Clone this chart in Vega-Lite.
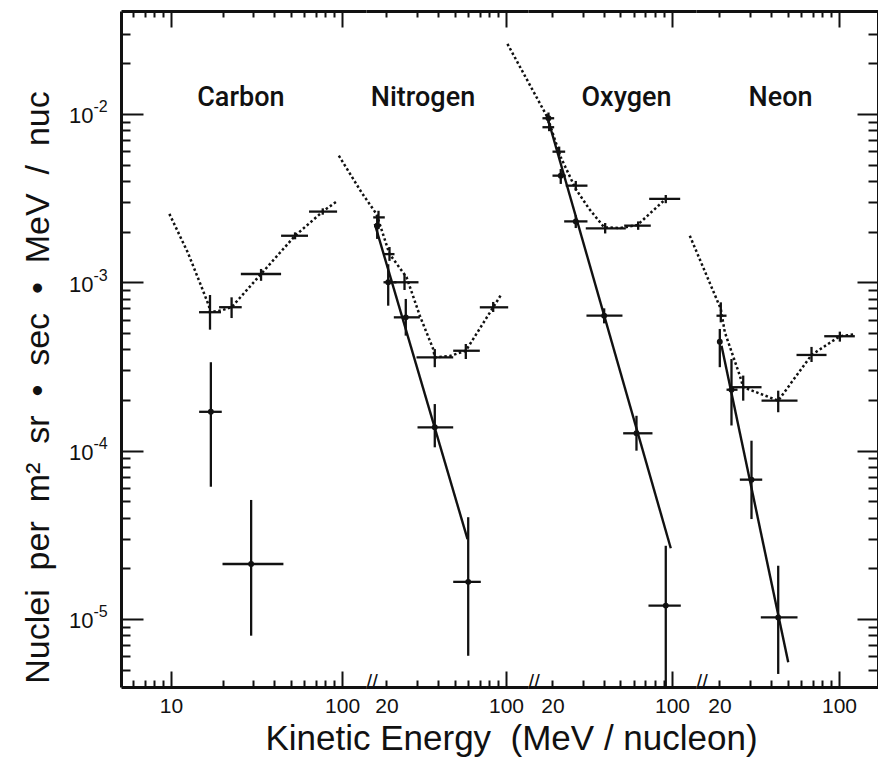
{
  "$schema": "https://vega.github.io/schema/vega-lite/v6.json",
  "autosize": {"type": "pad"},
  "padding": {"left": 20, "top": 10, "right": 1, "bottom": 5},
  "background": "white",
  "bounds": "flush",
  "spacing": 0,
  "config": {
    "view": {"stroke": null},
    "axis": {
      "grid": false,
      "domainColor": "#111",
      "domainWidth": 3,
      "tickColor": "#111",
      "tickWidth": 2,
      "labelColor": "#111",
      "labelFont": "Liberation Sans, Arial, sans-serif",
      "labelFontSize": 21,
      "labelOverlap": false,
      "labelBound": false,
      "labelFlush": false,
      "titleColor": "#111",
      "titleFont": "Liberation Sans, Arial, sans-serif",
      "titleFontWeight": "normal"
    }
  },
  "datasets": {
    "pts": [
      {"el": "C", "s": "u", "x": 16.9, "xlo": 14.58, "xhi": 19.6, "y": 0.000664, "ylo": 0.000523, "yhi": 0.00084},
      {"el": "C", "s": "u", "x": 22.6, "xlo": 19.1, "xhi": 25.9, "y": 0.000711, "ylo": 0.000613, "yhi": 0.000814},
      {"el": "C", "s": "u", "x": 33.6, "xlo": 25.6, "xhi": 44, "y": 0.00112, "ylo": 0.00102, "yhi": 0.0012},
      {"el": "C", "s": "u", "x": 53.1, "xlo": 44, "xhi": 63.2, "y": 0.00189, "ylo": 0.0018, "yhi": 0.00198},
      {"el": "C", "s": "u", "x": 77.1, "xlo": 64.1, "xhi": 93.5, "y": 0.00263, "ylo": 0.00252, "yhi": 0.00275},
      {"el": "C", "s": "l", "x": 17.1, "xlo": 14.6, "xhi": 19.8, "y": 0.00017, "ylo": 0.000061, "yhi": 0.000335},
      {"el": "C", "s": "l", "x": 29.4, "xlo": 20.0, "xhi": 45.4, "y": 0.0000212, "ylo": 0.00000795, "yhi": 0.0000509},
      {"el": "N", "s": "u", "x": 17.96, "xlo": 16.73, "xhi": 19.55, "y": 0.00243, "ylo": 0.00207, "yhi": 0.00266},
      {"el": "N", "s": "u", "x": 20.83, "xlo": 19.21, "xhi": 22.28, "y": 0.00147, "ylo": 0.00134, "yhi": 0.00162},
      {"el": "N", "s": "u", "x": 25.5, "xlo": 22.08, "xhi": 30.78, "y": 0.001, "ylo": 0.0009, "yhi": 0.00112},
      {"el": "N", "s": "u", "x": 38.33, "xlo": 29.97, "xhi": 49.12, "y": 0.000358, "ylo": 0.000313, "yhi": 0.000401},
      {"el": "N", "s": "u", "x": 58.21, "xlo": 49.12, "xhi": 70.29, "y": 0.000392, "ylo": 0.00035, "yhi": 0.00043},
      {"el": "N", "s": "u", "x": 84.17, "xlo": 70.29, "xhi": 103, "y": 0.00071, "ylo": 0.000666, "yhi": 0.000764},
      {"el": "N", "s": "l", "x": 17.65, "xlo": 16.9, "xhi": 18.5, "y": 0.00217, "ylo": 0.00181, "yhi": 0.00244},
      {"el": "N", "s": "l", "x": 20.47, "xlo": 19.21, "xhi": 22.88, "y": 0.001, "ylo": 0.000726, "yhi": 0.00128},
      {"el": "N", "s": "l", "x": 25.94, "xlo": 22.08, "xhi": 31.33, "y": 0.000619, "ylo": 0.000482, "yhi": 0.000796},
      {"el": "N", "s": "l", "x": 38.33, "xlo": 30.38, "xhi": 49.12, "y": 0.0001375, "ylo": 0.0001046, "yhi": 0.000189},
      {"el": "N", "s": "l", "x": 60.12, "xlo": 49.12, "xhi": 71.24, "y": 0.0000166, "ylo": 0.00000604, "yhi": 0.0000402},
      {"el": "O", "s": "u", "x": 19.14, "xlo": 17.48, "xhi": 20.47, "y": 0.00834, "ylo": 0.0079, "yhi": 0.0088},
      {"el": "O", "s": "u", "x": 21.89, "xlo": 20.01, "xhi": 23.74, "y": 0.00597, "ylo": 0.0056, "yhi": 0.0064},
      {"el": "O", "s": "u", "x": 27.38, "xlo": 23.93, "xhi": 32.05, "y": 0.00375, "ylo": 0.0035, "yhi": 0.004},
      {"el": "O", "s": "u", "x": 40.68, "xlo": 31.33, "xhi": 53.68, "y": 0.00209, "ylo": 0.00195, "yhi": 0.00225},
      {"el": "O", "s": "u", "x": 63.44, "xlo": 52.54, "xhi": 75.16, "y": 0.00217, "ylo": 0.00205, "yhi": 0.0023},
      {"el": "O", "s": "u", "x": 91.99, "xlo": 73.57, "xhi": 111.7, "y": 0.00313, "ylo": 0.00295, "yhi": 0.0033},
      {"el": "O", "s": "l", "x": 18.96, "xlo": 17.48, "xhi": 20.47, "y": 0.00943, "ylo": 0.0088, "yhi": 0.0102},
      {"el": "O", "s": "l", "x": 22.37, "xlo": 20.01, "xhi": 23.93, "y": 0.0043, "ylo": 0.00384, "yhi": 0.00471},
      {"el": "O", "s": "l", "x": 27.38, "xlo": 23.42, "xhi": 32.05, "y": 0.0023, "ylo": 0.0021, "yhi": 0.0025},
      {"el": "O", "s": "l", "x": 40.13, "xlo": 31.62, "xhi": 51.34, "y": 0.000633, "ylo": 0.00057, "yhi": 0.0007},
      {"el": "O", "s": "l", "x": 62.0, "xlo": 51.83, "xhi": 76.91, "y": 0.0001267, "ylo": 0.0000999, "yhi": 0.000161},
      {"el": "O", "s": "l", "x": 91.99, "xlo": 72.88, "xhi": 112.6, "y": 0.000012, "ylo": 0.00000394, "yhi": 0.0000272},
      {"el": "Ne", "s": "u", "x": 20.36, "xlo": 19.21, "xhi": 21.99, "y": 0.000633, "ylo": 0.000578, "yhi": 0.00076},
      {"el": "Ne", "s": "u", "x": 27.53, "xlo": 23.51, "xhi": 35.23, "y": 0.000238, "ylo": 0.000198, "yhi": 0.000279},
      {"el": "Ne", "s": "u", "x": 44.1, "xlo": 35.23, "xhi": 57.19, "y": 0.000198, "ylo": 0.000169, "yhi": 0.000227},
      {"el": "Ne", "s": "u", "x": 69.06, "xlo": 56.42, "xhi": 84.51, "y": 0.00037, "ylo": 0.000336, "yhi": 0.000413},
      {"el": "Ne", "s": "u", "x": 101.1, "xlo": 81.94, "xhi": 123.7, "y": 0.000478, "ylo": 0.000444, "yhi": 0.000509},
      {"el": "Ne", "s": "l", "x": 20.09, "xlo": 19.5, "xhi": 20.7, "y": 0.000444, "ylo": 0.000313, "yhi": 0.000528},
      {"el": "Ne", "s": "l", "x": 23.51, "xlo": 21.99, "xhi": 25.5, "y": 0.00023, "ylo": 0.000141, "yhi": 0.00035},
      {"el": "Ne", "s": "l", "x": 30.78, "xlo": 26.3, "xhi": 35.56, "y": 0.0000672, "ylo": 0.0000392, "yhi": 0.0001145},
      {"el": "Ne", "s": "l", "x": 44.1, "xlo": 34.89, "xhi": 57.19, "y": 0.0000102, "ylo": 0.00000471, "yhi": 0.0000207}
    ],
    "curves": [
      {"el": "C", "k": "model", "x": 9.78, "y": 0.00255},
      {"el": "C", "k": "model", "x": 12.52, "y": 0.001507},
      {"el": "C", "k": "model", "x": 14.98, "y": 0.000955},
      {"el": "C", "k": "model", "x": 16.67, "y": 0.000723},
      {"el": "C", "k": "model", "x": 16.9, "y": 0.000664},
      {"el": "C", "k": "model", "x": 19.6, "y": 0.00068},
      {"el": "C", "k": "model", "x": 22.6, "y": 0.000711},
      {"el": "C", "k": "model", "x": 33.6, "y": 0.00112},
      {"el": "C", "k": "model", "x": 53.1, "y": 0.00189},
      {"el": "C", "k": "model", "x": 77.1, "y": 0.00263},
      {"el": "C", "k": "model", "x": 94.4, "y": 0.00306},
      {"el": "N", "k": "model", "x": 10.53, "y": 0.00565},
      {"el": "N", "k": "model", "x": 14.29, "y": 0.00342},
      {"el": "N", "k": "model", "x": 17.48, "y": 0.002545},
      {"el": "N", "k": "model", "x": 20.83, "y": 0.00147},
      {"el": "N", "k": "model", "x": 26.19, "y": 0.001075},
      {"el": "N", "k": "model", "x": 31.33, "y": 0.000633},
      {"el": "N", "k": "model", "x": 37.52, "y": 0.000401},
      {"el": "N", "k": "model", "x": 38.33, "y": 0.000358},
      {"el": "N", "k": "model", "x": 47, "y": 0.000365},
      {"el": "N", "k": "model", "x": 58.21, "y": 0.000392},
      {"el": "N", "k": "model", "x": 84.17, "y": 0.00071},
      {"el": "N", "k": "model", "x": 92.87, "y": 0.000833},
      {"el": "N", "k": "fit", "x": 17.09, "y": 0.00222},
      {"el": "N", "k": "fit", "x": 59.56, "y": 0.0000298},
      {"el": "O", "k": "model", "x": 10.91, "y": 0.0261},
      {"el": "O", "k": "model", "x": 18.7, "y": 0.00956},
      {"el": "O", "k": "model", "x": 22.37, "y": 0.00553},
      {"el": "O", "k": "model", "x": 27.38, "y": 0.00358},
      {"el": "O", "k": "model", "x": 32.8, "y": 0.00273},
      {"el": "O", "k": "model", "x": 40.13, "y": 0.00212},
      {"el": "O", "k": "model", "x": 50, "y": 0.0021},
      {"el": "O", "k": "model", "x": 62.84, "y": 0.00219},
      {"el": "O", "k": "model", "x": 91.99, "y": 0.00313},
      {"el": "O", "k": "fit", "x": 18.46, "y": 0.01},
      {"el": "O", "k": "fit", "x": 98.4, "y": 0.0000263},
      {"el": "Ne", "k": "model", "x": 13.41, "y": 0.00189},
      {"el": "Ne", "k": "model", "x": 20.36, "y": 0.000694},
      {"el": "Ne", "k": "model", "x": 21.49, "y": 0.000505},
      {"el": "Ne", "k": "model", "x": 26.3, "y": 0.000279},
      {"el": "Ne", "k": "model", "x": 27.53, "y": 0.000238},
      {"el": "Ne", "k": "model", "x": 44.1, "y": 0.000198},
      {"el": "Ne", "k": "model", "x": 69.06, "y": 0.00037},
      {"el": "Ne", "k": "model", "x": 101.1, "y": 0.000478},
      {"el": "Ne", "k": "model", "x": 121.6, "y": 0.00049},
      {"el": "Ne", "k": "fit", "x": 20.56, "y": 0.00042},
      {"el": "Ne", "k": "fit", "x": 50.47, "y": 0.00000552}
    ],
    "names": [
      {"el": "C", "x": 25.6, "y": 0.01115, "t": "Carbon"},
      {"el": "N", "x": 32.7, "y": 0.01115, "t": "Nitrogen"},
      {"el": "O", "x": 54.2, "y": 0.01115, "t": "Oxygen"},
      {"el": "Ne", "x": 45.5, "y": 0.01115, "t": "Neon"}
    ],
    "breaks": [
      {"el": "C", "x": 138, "y": 0.00000394},
      {"el": "N", "x": 134.5, "y": 0.00000394},
      {"el": "O", "x": 138.2, "y": 0.00000394}
    ]
  },
  "hconcat": [
    {
      "width": 245, "height": 676,
      "layer": [
        {
          "layer": [
            {
              "data": {"name": "curves"},
              "transform": [{"filter": "datum.el=='C' && datum.k=='model'"}],
              "mark": {"type": "line", "clip": false, "color": "#111", "strokeWidth": 2.5, "strokeDash": [2.5, 2.5]},
              "encoding": {
                "x": {"field": "x", "type": "quantitative", "scale": {"type": "log", "domain": [5.1, 138], "nice": false},
                  "axis": {"orient": "bottom", "title": null, "values": [10, 100],
                    "labelExpr": "datum.value==10?'10':'100'",
                    "tickSize": -16,
                    "labelPadding": 24}},
                "y": {"field": "y", "type": "quantitative", "scale": {"type": "log", "domain": [0.00000394, 0.0409], "nice": false},
                  "axis": {"orient": "left",
                    "values": [0.00001, 0.0001, 0.001, 0.01],
                    "labelExpr": "'10'",
                    "tickSize": -22,
                    "labelPadding": 50,
                    "labelFontSize": 22,
                    "labelOffset": 2,
                    "title": "Nuclei\u00a0 per\u00a0 m² \u00a0sr\u00a0 •\u00a0 sec\u00a0 •\u00a0 MeV\u00a0 /\u00a0 nuc",
                    "titleFontSize": 34,
                    "titleAngle": 270,
                    "titleX": -73,
                    "titleY": 376,
                    "titleAlign": "center",
                    "titleBaseline": "alphabetic"}}
              }
            },
            {
              "data": {"name": "pts"},
              "transform": [{"filter": "datum.el=='C'"}],
              "mark": {"type": "rule", "color": "#111", "strokeWidth": 2.3},
              "encoding": {
                "x": {"field": "xlo", "type": "quantitative", "scale": {"type": "log", "domain": [5.1, 138], "nice": false}},
                "x2": {"field": "xhi"},
                "y": {"field": "y", "type": "quantitative", "scale": {"type": "log", "domain": [0.00000394, 0.0409], "nice": false}}
              }
            },
            {
              "data": {"name": "pts"},
              "transform": [{"filter": "datum.el=='C'"}],
              "mark": {"type": "rule", "color": "#111", "strokeWidth": 2.3},
              "encoding": {
                "x": {"field": "x", "type": "quantitative", "scale": {"type": "log", "domain": [5.1, 138], "nice": false}},
                "y": {"field": "ylo", "type": "quantitative", "scale": {"type": "log", "domain": [0.00000394, 0.0409], "nice": false}},
                "y2": {"field": "yhi"}
              }
            },
            {
              "data": {"name": "pts"},
              "transform": [{"filter": "datum.el=='C' && datum.s=='l'"}],
              "mark": {"type": "point", "filled": true, "color": "#111", "size": 35, "opacity": 1},
              "encoding": {
                "x": {"field": "x", "type": "quantitative", "scale": {"type": "log", "domain": [5.1, 138], "nice": false}},
                "y": {"field": "y", "type": "quantitative", "scale": {"type": "log", "domain": [0.00000394, 0.0409], "nice": false}}
              }
            },
            {
              "data": {"name": "names"},
              "transform": [{"filter": "datum.el=='C'"}],
              "mark": {"type": "text", "font": "Roboto, Liberation Sans, sans-serif", "fontSize": 27, "fontWeight": 500, "color": "#111", "align": "center", "baseline": "alphabetic"},
              "encoding": {
                "x": {"field": "x", "type": "quantitative", "scale": {"type": "log", "domain": [5.1, 138], "nice": false}},
                "y": {"field": "y", "type": "quantitative", "scale": {"type": "log", "domain": [0.00000394, 0.0409], "nice": false}},
                "text": {"field": "t"}
              }
            },
            {
              "data": {"name": "breaks"},
              "transform": [{"filter": "datum.el=='C'"}],
              "mark": {"type": "text", "font": "Liberation Sans, Arial, sans-serif", "fontSize": 21, "color": "#111", "align": "center", "baseline": "middle", "dx": 6, "dy": -4, "text": "//"},
              "encoding": {
                "x": {"field": "x", "type": "quantitative", "scale": {"type": "log", "domain": [5.1, 138], "nice": false}},
                "y": {"field": "y", "type": "quantitative", "scale": {"type": "log", "domain": [0.00000394, 0.0409], "nice": false}}
              }
            }
          ]
        },
        {
          "data": {"name": "pts"},
          "transform": [{"filter": "datum.el=='C'"}],
          "mark": {"type": "point", "opacity": 0},
          "encoding": {
            "x": {"field": "x", "type": "quantitative", "scale": {"type": "log", "domain": [5.1, 138], "nice": false},
              "axis": {"orient": "top", "title": null, "labels": false, "values": [6,7,8,9,10,20,30,40,50,60,70,80,90,100],
                "tickSize": {"condition": {"test": "datum.value==10||datum.value==100", "value": -16}, "value": -6}}},
            "y": {"field": "y", "type": "quantitative", "scale": {"type": "log", "domain": [0.00000394, 0.0409], "nice": false},
              "axis": {"orient": "left", "title": null, "domain": false, "ticks": false,
                "values": [0.01, 0.001, 0.0001, 0.00001],
                "labelExpr": "datum.value==0.01?'-2':datum.value==0.001?'-3':datum.value==0.0001?'-4':'-5'",
                "labelAlign": "left", "labelBaseline": "middle", "labelPadding": 28, "labelOffset": -7, "labelFontSize": 16}}
          }
        },
        {
          "data": {"name": "pts"},
          "transform": [{"filter": "datum.el=='C'"}],
          "mark": {"type": "point", "opacity": 0},
          "encoding": {
            "x": {"field": "x", "type": "quantitative", "scale": {"type": "log", "domain": [5.1, 138], "nice": false},
              "axis": {"orient": "bottom", "title": null, "labels": false, "domain": false, "values": [6,7,8,9,20,30,40,50,60,70,80,90], "tickSize": -7}},
            "y": {"field": "y", "type": "quantitative", "scale": {"type": "log", "domain": [0.00000394, 0.0409], "nice": false},
              "axis": {"orient": "left", "title": null, "labels": false, "domain": false,
                "values": [0.000005,0.000006,0.000007,0.000008,0.000009,0.00002,0.00003,0.00004,0.00005,0.00006,0.00007,0.00008,0.00009,0.0002,0.0003,0.0004,0.0005,0.0006,0.0007,0.0008,0.0009,0.002,0.003,0.004,0.005,0.006,0.007,0.008,0.009,0.02,0.03],
                "tickSize": -9}}
          }
        }
      ],
      "resolve": {"axis": {"x": "independent", "y": "independent"}}
    },
    {
      "width": 162, "height": 676,
      "layer": [
        {
          "layer": [
            {
              "data": {"name": "curves"},
              "transform": [{"filter": "datum.el=='N' && datum.k=='model'"}],
              "mark": {"type": "line", "clip": false, "color": "#111", "strokeWidth": 2.5, "strokeDash": [2.5, 2.5]},
              "encoding": {
                "x": {"field": "x", "type": "quantitative", "scale": {"type": "log", "domain": [15.18, 134.5], "nice": false},
                  "axis": {"orient": "bottom", "values": [20, 100],
                    "labelExpr": "datum.value==20?'20':'100'",
                    "tickSize": {"condition": {"test": "datum.value==100", "value": -16}, "value": -7},
                    "labelPadding": {"condition": {"test": "datum.value==100", "value": 24}, "value": 15},
                    "title": "Kinetic Energy \u00a0(MeV / nucleon)",
                    "titleFontSize": 35,
                    "titleX": 145,
                    "titleY": 62,
                    "titleAlign": "center",
                    "titleBaseline": "alphabetic"}},
                "y": {"field": "y", "type": "quantitative", "scale": {"type": "log", "domain": [0.00000394, 0.0409], "nice": false}, "axis": null}
              }
            },
            {
              "data": {"name": "curves"},
              "transform": [{"filter": "datum.el=='N' && datum.k=='fit'"}],
              "mark": {"type": "line", "clip": false, "color": "#111", "strokeWidth": 2.4},
              "encoding": {
                "x": {"field": "x", "type": "quantitative", "scale": {"type": "log", "domain": [15.18, 134.5], "nice": false}},
                "y": {"field": "y", "type": "quantitative", "scale": {"type": "log", "domain": [0.00000394, 0.0409], "nice": false}}
              }
            },
            {
              "data": {"name": "pts"},
              "transform": [{"filter": "datum.el=='N'"}],
              "mark": {"type": "rule", "color": "#111", "strokeWidth": 2.3},
              "encoding": {
                "x": {"field": "xlo", "type": "quantitative", "scale": {"type": "log", "domain": [15.18, 134.5], "nice": false}},
                "x2": {"field": "xhi"},
                "y": {"field": "y", "type": "quantitative", "scale": {"type": "log", "domain": [0.00000394, 0.0409], "nice": false}}
              }
            },
            {
              "data": {"name": "pts"},
              "transform": [{"filter": "datum.el=='N'"}],
              "mark": {"type": "rule", "color": "#111", "strokeWidth": 2.3},
              "encoding": {
                "x": {"field": "x", "type": "quantitative", "scale": {"type": "log", "domain": [15.18, 134.5], "nice": false}},
                "y": {"field": "ylo", "type": "quantitative", "scale": {"type": "log", "domain": [0.00000394, 0.0409], "nice": false}},
                "y2": {"field": "yhi"}
              }
            },
            {
              "data": {"name": "pts"},
              "transform": [{"filter": "datum.el=='N' && datum.s=='l'"}],
              "mark": {"type": "point", "filled": true, "color": "#111", "size": 35, "opacity": 1},
              "encoding": {
                "x": {"field": "x", "type": "quantitative", "scale": {"type": "log", "domain": [15.18, 134.5], "nice": false}},
                "y": {"field": "y", "type": "quantitative", "scale": {"type": "log", "domain": [0.00000394, 0.0409], "nice": false}}
              }
            },
            {
              "data": {"name": "names"},
              "transform": [{"filter": "datum.el=='N'"}],
              "mark": {"type": "text", "font": "Roboto, Liberation Sans, sans-serif", "fontSize": 27, "fontWeight": 500, "color": "#111", "align": "center", "baseline": "alphabetic"},
              "encoding": {
                "x": {"field": "x", "type": "quantitative", "scale": {"type": "log", "domain": [15.18, 134.5], "nice": false}},
                "y": {"field": "y", "type": "quantitative", "scale": {"type": "log", "domain": [0.00000394, 0.0409], "nice": false}},
                "text": {"field": "t"}
              }
            },
            {
              "data": {"name": "breaks"},
              "transform": [{"filter": "datum.el=='N'"}],
              "mark": {"type": "text", "font": "Liberation Sans, Arial, sans-serif", "fontSize": 21, "color": "#111", "align": "center", "baseline": "middle", "dx": 6, "dy": -4, "text": "//"},
              "encoding": {
                "x": {"field": "x", "type": "quantitative", "scale": {"type": "log", "domain": [15.18, 134.5], "nice": false}},
                "y": {"field": "y", "type": "quantitative", "scale": {"type": "log", "domain": [0.00000394, 0.0409], "nice": false}}
              }
            }
          ]
        },
        {
          "data": {"name": "pts"},
          "transform": [{"filter": "datum.el=='N'"}],
          "mark": {"type": "point", "opacity": 0},
          "encoding": {
            "x": {"field": "x", "type": "quantitative", "scale": {"type": "log", "domain": [15.18, 134.5], "nice": false},
              "axis": {"orient": "top", "title": null, "labels": false, "values": [20,30,40,50,60,70,80,90,100],
                "tickSize": {"condition": {"test": "datum.value==100", "value": -16}, "value": -6}}},
            "y": {"field": "y", "type": "quantitative", "scale": {"type": "log", "domain": [0.00000394, 0.0409], "nice": false}, "axis": null}
          }
        },
        {
          "data": {"name": "pts"},
          "transform": [{"filter": "datum.el=='N'"}],
          "mark": {"type": "point", "opacity": 0},
          "encoding": {
            "x": {"field": "x", "type": "quantitative", "scale": {"type": "log", "domain": [15.18, 134.5], "nice": false},
              "axis": {"orient": "bottom", "title": null, "labels": false, "domain": false, "values": [30,40,50,60,70,80,90], "tickSize": -7}},
            "y": {"field": "y", "type": "quantitative", "scale": {"type": "log", "domain": [0.00000394, 0.0409], "nice": false}, "axis": null}
          }
        }
      ],
      "resolve": {"axis": {"x": "independent", "y": "independent"}}
    },
    {
      "width": 168, "height": 676,
      "layer": [
        {
          "layer": [
            {
              "data": {"name": "curves"},
              "transform": [{"filter": "datum.el=='O' && datum.k=='model'"}],
              "mark": {"type": "line", "clip": false, "color": "#111", "strokeWidth": 2.5, "strokeDash": [2.5, 2.5]},
              "encoding": {
                "x": {"field": "x", "type": "quantitative", "scale": {"type": "log", "domain": [14.39, 138.2], "nice": false},
                  "axis": {"orient": "bottom", "title": null, "values": [20, 100],
                    "labelExpr": "datum.value==20?'20':'100'",
                    "tickSize": {"condition": {"test": "datum.value==100", "value": -16}, "value": -7},
                    "labelPadding": {"condition": {"test": "datum.value==100", "value": 24}, "value": 15}}},
                "y": {"field": "y", "type": "quantitative", "scale": {"type": "log", "domain": [0.00000394, 0.0409], "nice": false}, "axis": null}
              }
            },
            {
              "data": {"name": "curves"},
              "transform": [{"filter": "datum.el=='O' && datum.k=='fit'"}],
              "mark": {"type": "line", "clip": false, "color": "#111", "strokeWidth": 2.4},
              "encoding": {
                "x": {"field": "x", "type": "quantitative", "scale": {"type": "log", "domain": [14.39, 138.2], "nice": false}},
                "y": {"field": "y", "type": "quantitative", "scale": {"type": "log", "domain": [0.00000394, 0.0409], "nice": false}}
              }
            },
            {
              "data": {"name": "pts"},
              "transform": [{"filter": "datum.el=='O'"}],
              "mark": {"type": "rule", "color": "#111", "strokeWidth": 2.3},
              "encoding": {
                "x": {"field": "xlo", "type": "quantitative", "scale": {"type": "log", "domain": [14.39, 138.2], "nice": false}},
                "x2": {"field": "xhi"},
                "y": {"field": "y", "type": "quantitative", "scale": {"type": "log", "domain": [0.00000394, 0.0409], "nice": false}}
              }
            },
            {
              "data": {"name": "pts"},
              "transform": [{"filter": "datum.el=='O'"}],
              "mark": {"type": "rule", "color": "#111", "strokeWidth": 2.3},
              "encoding": {
                "x": {"field": "x", "type": "quantitative", "scale": {"type": "log", "domain": [14.39, 138.2], "nice": false}},
                "y": {"field": "ylo", "type": "quantitative", "scale": {"type": "log", "domain": [0.00000394, 0.0409], "nice": false}},
                "y2": {"field": "yhi"}
              }
            },
            {
              "data": {"name": "pts"},
              "transform": [{"filter": "datum.el=='O' && datum.s=='l'"}],
              "mark": {"type": "point", "filled": true, "color": "#111", "size": 35, "opacity": 1},
              "encoding": {
                "x": {"field": "x", "type": "quantitative", "scale": {"type": "log", "domain": [14.39, 138.2], "nice": false}},
                "y": {"field": "y", "type": "quantitative", "scale": {"type": "log", "domain": [0.00000394, 0.0409], "nice": false}}
              }
            },
            {
              "data": {"name": "names"},
              "transform": [{"filter": "datum.el=='O'"}],
              "mark": {"type": "text", "font": "Roboto, Liberation Sans, sans-serif", "fontSize": 27, "fontWeight": 500, "color": "#111", "align": "center", "baseline": "alphabetic"},
              "encoding": {
                "x": {"field": "x", "type": "quantitative", "scale": {"type": "log", "domain": [14.39, 138.2], "nice": false}},
                "y": {"field": "y", "type": "quantitative", "scale": {"type": "log", "domain": [0.00000394, 0.0409], "nice": false}},
                "text": {"field": "t"}
              }
            },
            {
              "data": {"name": "breaks"},
              "transform": [{"filter": "datum.el=='O'"}],
              "mark": {"type": "text", "font": "Liberation Sans, Arial, sans-serif", "fontSize": 21, "color": "#111", "align": "center", "baseline": "middle", "dx": 6, "dy": -4, "text": "//"},
              "encoding": {
                "x": {"field": "x", "type": "quantitative", "scale": {"type": "log", "domain": [14.39, 138.2], "nice": false}},
                "y": {"field": "y", "type": "quantitative", "scale": {"type": "log", "domain": [0.00000394, 0.0409], "nice": false}}
              }
            }
          ]
        },
        {
          "data": {"name": "pts"},
          "transform": [{"filter": "datum.el=='O'"}],
          "mark": {"type": "point", "opacity": 0},
          "encoding": {
            "x": {"field": "x", "type": "quantitative", "scale": {"type": "log", "domain": [14.39, 138.2], "nice": false},
              "axis": {"orient": "top", "title": null, "labels": false, "values": [20,30,40,50,60,70,80,90,100],
                "tickSize": {"condition": {"test": "datum.value==100", "value": -16}, "value": -6}}},
            "y": {"field": "y", "type": "quantitative", "scale": {"type": "log", "domain": [0.00000394, 0.0409], "nice": false}, "axis": null}
          }
        },
        {
          "data": {"name": "pts"},
          "transform": [{"filter": "datum.el=='O'"}],
          "mark": {"type": "point", "opacity": 0},
          "encoding": {
            "x": {"field": "x", "type": "quantitative", "scale": {"type": "log", "domain": [14.39, 138.2], "nice": false},
              "axis": {"orient": "bottom", "title": null, "labels": false, "domain": false, "values": [30,40,50,60,70,80,90], "tickSize": -7}},
            "y": {"field": "y", "type": "quantitative", "scale": {"type": "log", "domain": [0.00000394, 0.0409], "nice": false}, "axis": null}
          }
        }
      ],
      "resolve": {"axis": {"x": "independent", "y": "independent"}}
    },
    {
      "width": 182, "height": 676,
      "layer": [
        {
          "layer": [
            {
              "data": {"name": "curves"},
              "transform": [{"filter": "datum.el=='Ne' && datum.k=='model'"}],
              "mark": {"type": "line", "clip": false, "color": "#111", "strokeWidth": 2.5, "strokeDash": [2.5, 2.5]},
              "encoding": {
                "x": {"field": "x", "type": "quantitative", "scale": {"type": "log", "domain": [14.58, 169], "nice": false},
                  "axis": {"orient": "bottom", "title": null, "values": [20, 100],
                    "labelExpr": "datum.value==20?'20':'100'",
                    "tickSize": {"condition": {"test": "datum.value==100", "value": -16}, "value": -7},
                    "labelPadding": {"condition": {"test": "datum.value==100", "value": 24}, "value": 15}}},
                "y": {"field": "y", "type": "quantitative", "scale": {"type": "log", "domain": [0.00000394, 0.0409], "nice": false}, "axis": null}
              }
            },
            {
              "data": {"name": "curves"},
              "transform": [{"filter": "datum.el=='Ne' && datum.k=='fit'"}],
              "mark": {"type": "line", "clip": false, "color": "#111", "strokeWidth": 2.4},
              "encoding": {
                "x": {"field": "x", "type": "quantitative", "scale": {"type": "log", "domain": [14.58, 169], "nice": false}},
                "y": {"field": "y", "type": "quantitative", "scale": {"type": "log", "domain": [0.00000394, 0.0409], "nice": false}}
              }
            },
            {
              "data": {"name": "pts"},
              "transform": [{"filter": "datum.el=='Ne'"}],
              "mark": {"type": "rule", "color": "#111", "strokeWidth": 2.3},
              "encoding": {
                "x": {"field": "xlo", "type": "quantitative", "scale": {"type": "log", "domain": [14.58, 169], "nice": false}},
                "x2": {"field": "xhi"},
                "y": {"field": "y", "type": "quantitative", "scale": {"type": "log", "domain": [0.00000394, 0.0409], "nice": false}}
              }
            },
            {
              "data": {"name": "pts"},
              "transform": [{"filter": "datum.el=='Ne'"}],
              "mark": {"type": "rule", "color": "#111", "strokeWidth": 2.3},
              "encoding": {
                "x": {"field": "x", "type": "quantitative", "scale": {"type": "log", "domain": [14.58, 169], "nice": false}},
                "y": {"field": "ylo", "type": "quantitative", "scale": {"type": "log", "domain": [0.00000394, 0.0409], "nice": false}},
                "y2": {"field": "yhi"}
              }
            },
            {
              "data": {"name": "pts"},
              "transform": [{"filter": "datum.el=='Ne' && datum.s=='l'"}],
              "mark": {"type": "point", "filled": true, "color": "#111", "size": 35, "opacity": 1},
              "encoding": {
                "x": {"field": "x", "type": "quantitative", "scale": {"type": "log", "domain": [14.58, 169], "nice": false}},
                "y": {"field": "y", "type": "quantitative", "scale": {"type": "log", "domain": [0.00000394, 0.0409], "nice": false}}
              }
            },
            {
              "data": {"name": "names"},
              "transform": [{"filter": "datum.el=='Ne'"}],
              "mark": {"type": "text", "font": "Roboto, Liberation Sans, sans-serif", "fontSize": 27, "fontWeight": 500, "color": "#111", "align": "center", "baseline": "alphabetic"},
              "encoding": {
                "x": {"field": "x", "type": "quantitative", "scale": {"type": "log", "domain": [14.58, 169], "nice": false}},
                "y": {"field": "y", "type": "quantitative", "scale": {"type": "log", "domain": [0.00000394, 0.0409], "nice": false}},
                "text": {"field": "t"}
              }
            }
          ]
        },
        {
          "data": {"name": "pts"},
          "transform": [{"filter": "datum.el=='Ne'"}],
          "mark": {"type": "point", "opacity": 0},
          "encoding": {
            "x": {"field": "x", "type": "quantitative", "scale": {"type": "log", "domain": [14.58, 169], "nice": false},
              "axis": {"orient": "top", "title": null, "labels": false, "values": [20,30,40,50,60,70,80,90,100],
                "tickSize": {"condition": {"test": "datum.value==100", "value": -16}, "value": -6}}},
            "y": {"field": "y", "type": "quantitative", "scale": {"type": "log", "domain": [0.00000394, 0.0409], "nice": false},
              "axis": {"orient": "right", "title": null, "labels": false,
                "values": [0.000005,0.000006,0.000007,0.000008,0.000009,0.00001,0.00002,0.00003,0.00004,0.00005,0.00006,0.00007,0.00008,0.00009,0.0001,0.0002,0.0003,0.0004,0.0005,0.0006,0.0007,0.0008,0.0009,0.001,0.002,0.003,0.004,0.005,0.006,0.007,0.008,0.009,0.01,0.02,0.03],
                "tickSize": {"condition": {"test": "datum.value==0.01||datum.value==0.001||datum.value==0.0001||datum.value==0.00001", "value": -21}, "value": -10}}}
          }
        },
        {
          "data": {"name": "pts"},
          "transform": [{"filter": "datum.el=='Ne'"}],
          "mark": {"type": "point", "opacity": 0},
          "encoding": {
            "x": {"field": "x", "type": "quantitative", "scale": {"type": "log", "domain": [14.58, 169], "nice": false},
              "axis": {"orient": "bottom", "title": null, "labels": false, "domain": false, "values": [30,40,50,60,70,80,90], "tickSize": -7}},
            "y": {"field": "y", "type": "quantitative", "scale": {"type": "log", "domain": [0.00000394, 0.0409], "nice": false}, "axis": null}
          }
        }
      ],
      "resolve": {"axis": {"x": "independent", "y": "independent"}}
    }
  ]
}
